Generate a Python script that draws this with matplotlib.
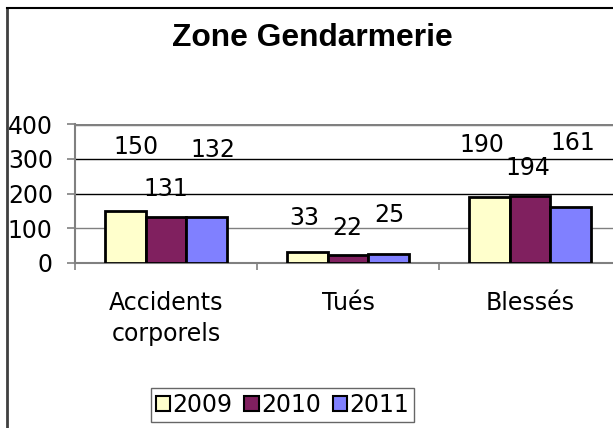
import matplotlib
matplotlib.use("Agg")
import matplotlib.pyplot as plt
from matplotlib.patches import Patch
from matplotlib.lines import Line2D
import numpy as np

categories = ["Accidents\ncorporels", "Tués", "Blessés"]
years = ["2009", "2010", "2011"]
values_2009 = [150, 33, 190]
values_2010 = [131, 22, 194]
values_2011 = [132, 25, 161]
series = [values_2009, values_2010, values_2011]
colors = ["#FFFFCC", "#80205F", "#8080FF"]
yticks = [0, 100, 200, 300, 400]
title = "Zone Gendarmerie"

# label offsets (pixels) relative to bar top, mimicking the original staggered labels
label_offsets = [
    [(10, 64), (-3, 34), (-8, 52)],
    [(0, 28), (-1, 27), (-2, 28)],
    [(6, 67), (1, 39), (2, 64)],
]

W, H = 613, 428
fig = plt.figure(figsize=(W / 100, H / 100), dpi=100)
plt.rcParams['font.family'] = ['DejaVu Sans']
FS = 17

left, right, bottom, top = 75, 621, 263, 124
ax = fig.add_axes([left / W, 1 - bottom / H, (right - left) / W, (bottom - top) / H])

x = np.arange(len(categories))
bw = 0.222
for i, (vals, c) in enumerate(zip(series, colors)):
    off = (i - 1) * bw
    bars = ax.bar(x + off, vals, width=bw, color=c, edgecolor="black", linewidth=2, zorder=3)
    for j, b in enumerate(bars):
        dx, dy = label_offsets[i][j]
        ax.annotate(str(vals[j]), xy=(b.get_x() + b.get_width() / 2, b.get_height()),
                    xytext=(dx, dy), textcoords="offset pixels", ha="center", va="center",
                    fontsize=FS, zorder=4)

ax.set_xlim(-0.5, len(categories) - 0.5)
ax.set_ylim(0, 400)

grid_colors = {100: "#808080", 200: "black", 300: "black", 400: "#808080"}
grid_lw = {100: 1, 200: 1, 300: 1, 400: 2.5}
for v, c in grid_colors.items():
    ax.axhline(v, color=c, lw=grid_lw[v], zorder=1)

for s in ["top", "right"]:
    ax.spines[s].set_visible(False)
for s in ["left", "bottom"]:
    ax.spines[s].set_color("#808080")
    ax.spines[s].set_linewidth(1.5)

ax.set_yticks(yticks)
ax.set_yticklabels([str(t) for t in yticks], fontsize=FS)
ax.tick_params(axis="y", length=6, width=1.2, color="#808080", pad=10)

ax.set_xticks(x)
ax.set_xticklabels(categories, fontsize=FS, linespacing=1.4)
ax.tick_params(axis="x", which="major", length=0, pad=20)
ax.set_xticks(np.arange(-0.5, len(categories)), minor=True)
ax.tick_params(axis="x", which="minor", length=5, width=1.2, color="#808080")

fig.text(312 / W, 1 - 38 / H, title, fontsize=22.9, fontweight="bold", ha="center", va="center",
         family=["Liberation Sans", "DejaVu Sans"])

handles = [Patch(facecolor=c, edgecolor="black", linewidth=1.5, label=y) for c, y in zip(colors, years)]
leg = fig.legend(handles=handles, loc="center", bbox_to_anchor=(282.5 / W, 1 - 405 / H), ncol=3,
                 fontsize=FS, frameon=True, fancybox=False, handlelength=0.6, handleheight=0.6,
                 handletextpad=0.1, columnspacing=0.5, borderpad=0.2, borderaxespad=0)
leg.get_frame().set_edgecolor("#404040")
leg.get_frame().set_linewidth(1)

fig.add_artist(Line2D([6.5 / W, 6.5 / W], [0, 1 - 8 / H], transform=fig.transFigure, color="#404040", lw=2))
fig.add_artist(Line2D([6.5 / W, 1], [1 - 8 / H, 1 - 8 / H], transform=fig.transFigure, color="black", lw=1.5))

fig.savefig("out.png", dpi=100)
